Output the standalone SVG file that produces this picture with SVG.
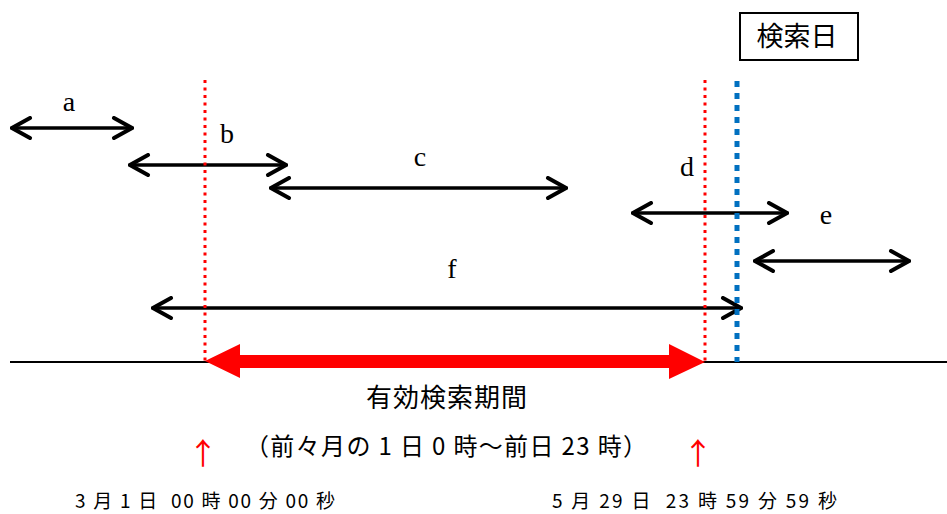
<svg xmlns="http://www.w3.org/2000/svg" width="947" height="514" viewBox="0 0 947 514">
<style>
.lbl{font-family:"Liberation Serif","DejaVu Serif",serif;font-size:28px;fill:#000;text-anchor:middle}
.jp{font-family:"Noto Sans CJK JP","Noto Sans CJK SC",sans-serif;fill:#000;white-space:pre}
.arr{stroke:#000;stroke-width:3.5;fill:none;marker-start:url(#chev);marker-end:url(#chev)}
.red{stroke:#ff0000;stroke-width:3;stroke-dasharray:3 4.5;fill:none}
.blue{stroke:#0070c0;stroke-width:5;stroke-dasharray:6 6;fill:none}
.up{font-family:"Noto Sans CJK JP",sans-serif;font-size:30px;fill:#ff0000;text-anchor:middle}
</style>
<defs>
<marker id="chev" viewBox="-22 -12 24 24" markerWidth="24" markerHeight="24" refX="0" refY="0" markerUnits="userSpaceOnUse" orient="auto-start-reverse">
<path d="M-18,-10 L0,0 L-18,10" fill="none" stroke="#000" stroke-width="4" stroke-linecap="round" stroke-linejoin="miter"/>
</marker>
</defs>
<rect width="947" height="514" fill="#fff"/>
<g id="baseline"><line x1="10" y1="362" x2="947" y2="362" stroke="#000" stroke-width="2"/></g>
<g id="connectors">
<line class="arr" x1="12" y1="128" x2="132" y2="128"/>
<line class="arr" x1="130" y1="165" x2="286" y2="165"/>
<line class="arr" x1="271" y1="188" x2="566" y2="188"/>
<line class="arr" x1="633" y1="213" x2="787" y2="213"/>
<line class="arr" x1="755" y1="261" x2="909" y2="261"/>
<line class="arr" x1="153" y1="308" x2="741" y2="308"/>
</g>
<g id="period-arrow"><path d="M205,361 L240,344 L240,355 L669,355 L669,344 L705,362 L669,379 L669,368 L240,368 L240,378 Z" fill="#ff0000"/></g>
<g id="guides">
<line class="red" x1="205" y1="80" x2="205" y2="362"/>
<line class="red" x1="705" y1="80" x2="705" y2="362"/>
<line class="blue" x1="737" y1="81" x2="737" y2="362"/>
</g>
<g id="labels">
<text class="lbl" x="69" y="111">a</text>
<text class="lbl" x="227" y="143">b</text>
<text class="lbl" x="420" y="166">c</text>
<text class="lbl" x="687" y="176">d</text>
<text class="lbl" x="826" y="224">e</text>
<text class="lbl" x="452" y="278">f</text>
</g>
<g id="search-day">
<rect x="740" y="13" width="118" height="47" fill="#fff" stroke="#000" stroke-width="2"/>
<text class="jp" x="797" y="46" font-size="27" text-anchor="middle">検索日</text>
</g>
<g id="period-text">
<text class="jp" x="447" y="407" font-size="26" text-anchor="middle" letter-spacing="1">有効検索期間</text>
<text class="jp" x="245" y="455" font-size="24" textLength="402" lengthAdjust="spacing">（前々月の 1 日 0 時～前日 23 時）</text>
</g>
<g id="markers">
<text class="up" x="203" y="464">↑</text>
<text class="up" x="698" y="464">↑</text>
</g>
<g id="dates">
<text class="jp" x="75" y="508" font-size="19" textLength="260" lengthAdjust="spacing">3 月 1 日  00 時 00 分 00 秒</text>
<text class="jp" x="552" y="508" font-size="19" textLength="285" lengthAdjust="spacing">5 月 29 日  23 時 59 分 59 秒</text>
</g>
</svg>
